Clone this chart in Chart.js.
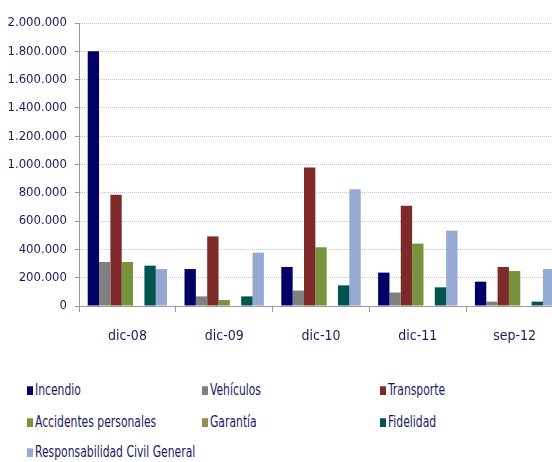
<!DOCTYPE html>
<html>
<head>
<meta charset="utf-8">
<script src="https://cdn.jsdelivr.net/npm/chart.js@4/dist/chart.umd.min.js"></script>
<style>
  body { margin: 0; background: #fff; overflow: hidden; width: 552px; height: 462px; }
  #wrap { position: relative; width: 552px; height: 462px; overflow: hidden; }
  #myChart { position: absolute; left: 0; top: 0; }
  #legend { position: absolute; left: 0; top: 0; font-family: 'DejaVu Sans Condensed', 'Liberation Sans', sans-serif; font-size: 12px; color: #1a1a66; }
  .item { position: absolute; white-space: nowrap; line-height: 18px; transform: scaleY(1.25); transform-origin: left center; }
  .box { display: inline-block; width: 6px; height: 7px; margin-right: 2px; vertical-align: 0px; }
</style>
</head>
<body>
<div id="wrap">
  <canvas id="myChart" width="563" height="348"></canvas>
  <div id="legend"></div>
</div>
<script>
var periods = ["dic-08", "dic-09", "dic-10", "dic-11", "sep-12"];
var ramos = ["Incendio", "Vehículos", "Transporte", "Accidentes personales", "Garantía", "Fidelidad", "Responsabilidad Civil General"];
var colores = ["#000066", "#808080", "#7f2a2a", "#77933c", "#948a54", "#00554f", "#95aad2"];

var incendio = [1800000, 261000, 276000, 236000, 172000];
var vehiculos = [311000, 68000, 109000, 95000, 31000];
var transporte = [787000, 492000, 978000, 709000, 276000];
var accidentes = [311000, 42000, 415000, 441000, 247000];
var garantia = [0, 0, 0, 0, 0];
var fidelidad = [285000, 68000, 146000, 132000, 31000];
var rcg = [261000, 377000, 825000, 533000, 261000];

var yTicks = [0, 200000, 400000, 600000, 800000, 1000000, 1200000, 1400000, 1600000, 1800000, 2000000];

var series = [incendio, vehiculos, transporte, accidentes, garantia, fidelidad, rcg];
var font = "'DejaVu Sans Condensed', 'Liberation Sans', sans-serif";
var txt = "#1a1a66";

function puntos(v) {
  return String(v).replace(/\B(?=(\d{3})+(?!\d))/g, ".");
}

var datasets = [];
for (var i = 0; i < ramos.length; i++) {
  datasets.push({
    label: ramos[i],
    data: series[i],
    backgroundColor: colores[i],
    borderWidth: 0,
    barPercentage: 1,
    categoryPercentage: 0.82
  });
}

var ctx = document.getElementById('myChart').getContext('2d');
var chart = new Chart(ctx, {
  type: 'bar',
  data: { labels: periods, datasets: datasets },
  options: {
    responsive: false,
    animation: false,
    events: [],
    layout: { padding: { top: 23, right: 0, bottom: 0, left: 0 } },
    plugins: { legend: { display: false }, tooltip: { enabled: false } },
    scales: {
      x: {
        afterFit: function (scale) { scale.height = 42; },
        grid: { display: true, offset: true, drawOnChartArea: false, color: "#999", tickLength: 6 },
        border: { display: true, color: "#999", width: 1 },
        ticks: { color: txt, font: { family: font, size: 14 }, padding: 16, maxRotation: 0, autoSkip: false }
      },
      y: {
        min: 0,
        max: 2000000,
        afterFit: function (scale) { scale.width = 79; },
        afterBuildTicks: function (scale) { scale.ticks = yTicks.map(function (v) { return { value: v }; }); },
        grid: { color: "#c4c4c4", tickLength: 4, tickColor: "#999", tickBorderDash: [] },
        border: { display: true, color: "#999", width: 1, dash: [1, 1] },
        ticks: { color: txt, font: { family: font, size: 13 }, padding: 8, callback: function (v) { return puntos(v); } }
      }
    }
  }
});

// leyenda en 3 columnas
var cols = [27, 202, 380];
var rows = [381, 413, 443];
var legend = document.getElementById('legend');
for (var j = 0; j < ramos.length; j++) {
  var d = document.createElement('div');
  d.className = 'item';
  d.style.left = cols[j % 3] + 'px';
  d.style.top = rows[Math.floor(j / 3)] + 'px';
  d.innerHTML = '<span class="box" style="background:' + colores[j] + '"></span>' + ramos[j];
  legend.appendChild(d);
}
</script>
</body>
</html>
